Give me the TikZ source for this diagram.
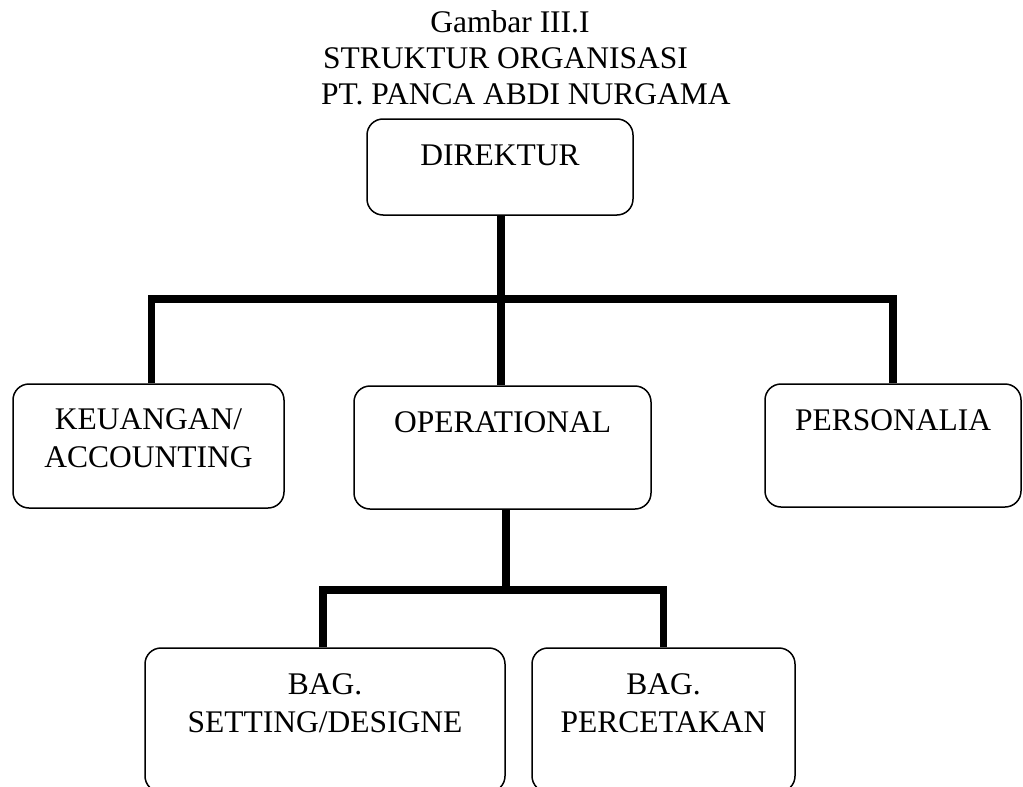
\documentclass[tikz,border=0pt]{standalone}
\usepackage{fontspec}
\setmainfont{Liberation Serif}
\begin{document}
\begin{tikzpicture}[x=1pt,y=-1pt,
  box/.style={draw, line width=1.5pt, rounded corners=16pt, inner sep=0pt},
  lbl/.style={inner sep=0pt, anchor=north, align=center, font=\fontsize{31.5}{38.5}\selectfont},
  ttl/.style={inner sep=0pt, anchor=base, font=\fontsize{31.5}{36}\selectfont},
  conn/.style={line width=7.5pt, line join=miter}]
\useasboundingbox (0,0) rectangle (1023,787);
\clip (0,0) rectangle (1023,787);

% title
\node[ttl] (t1) at (510,32) {Gambar III.I};
\node[ttl] (t2) at (505.5,68) {STRUKTUR ORGANISASI};
\node[ttl] (t3) at (526,104) {PT. PANCA ABDI NURGAMA};

% boxes
\node[box, minimum width=266pt, minimum height=96pt] (dir) at (500,167) {};
\node[box, minimum width=271pt, minimum height=124pt] (keu) at (148.5,446) {};
\node[box, minimum width=297pt, minimum height=123pt] (op) at (502.5,447.5) {};
\node[box, minimum width=256pt, minimum height=123pt] (pers) at (893,445.5) {};
\node[box, minimum width=360pt, minimum height=144pt] (set) at (325,720) {};
\node[box, minimum width=263pt, minimum height=144pt] (perc) at (663.5,720) {};

% labels
\node[lbl] (dirt) at ([yshift=-26pt]dir.north) {DIREKTUR};
\node[lbl] (keut) at ([yshift=-25pt]keu.north) {KEUANGAN/\\ACCOUNTING};
\node[lbl] (opt) at ([yshift=-26pt]op.north) {OPERATIONAL};
\node[lbl] (perst) at ([yshift=-26pt]pers.north) {PERSONALIA};
\node[lbl] (sett) at ([yshift=-26pt]set.north) {BAG.\\SETTING/DESIGNE};
\node[lbl] (perct) at ([yshift=-26pt]perc.north) {BAG.\\PERCETAKAN};

% connectors
\coordinate (bus1) at (501,299);
\coordinate (bus2) at (506,590);
\draw[conn] (dir.south -| bus1) -- (bus1) -- (op.north -| bus1);
\draw[conn] ([xshift=3pt]keu.north) |- (bus1) -| (pers.north);
\draw[conn] (op.south -| bus2) -- (bus2);
\draw[conn] ([xshift=-2pt]set.north) |- (bus2) -| (perc.north);
\end{tikzpicture}
\end{document}
